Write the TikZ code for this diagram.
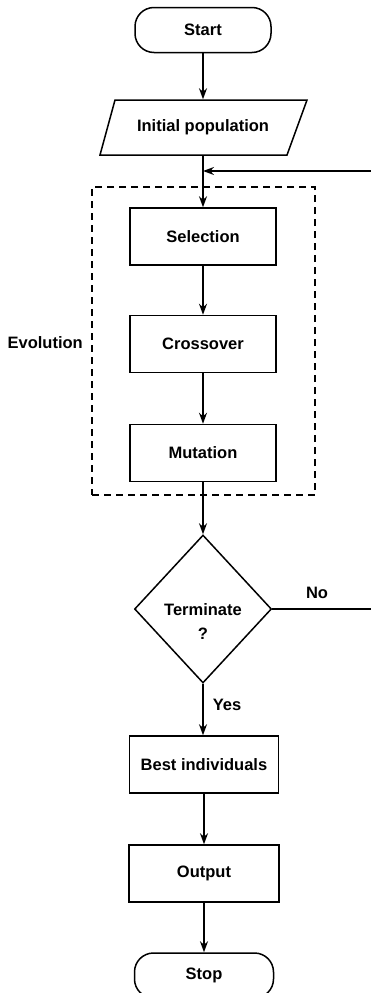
\documentclass[tikz,border=0pt]{standalone}
\usepackage{fontspec}
\setmainfont{Liberation Sans}
\usetikzlibrary{arrows.meta,shapes.geometric}
\tikzset{
  base/.style={font=\bfseries\fontsize{16.5}{24}\selectfont, line width=1.5pt, inner sep=0pt},
  box/.style={base, draw, rectangle, minimum width=146pt, minimum height=57pt},
  term/.style={base, draw, rectangle, rounded corners=19pt, minimum width=136pt, minimum height=45pt},
  decision/.style={base, draw, diamond, minimum width=137pt, minimum height=148pt},
  plain/.style={base},
  lbl/.style={font=\bfseries\fontsize{16.5}{20}\selectfont, inner sep=0pt},
  evobox/.style={draw, line width=1.4pt, dash pattern=on 7pt off 5pt, minimum width=223pt, minimum height=308pt, inner sep=0pt},
  arr/.style={line width=1.5pt, -{Stealth[length=11pt,width=8pt]}},
  ln/.style={line width=1.5pt}
}
\begin{document}
\begin{tikzpicture}[x=1pt,y=-1pt]
\useasboundingbox (0,0) rectangle (370,993);
\fill[white] (0,0) rectangle (370,993);

\node[term] (start) at (203,30) {Start};
\node[plain, minimum height=55pt] (init) at (203,127.5) {Initial population};
\draw[ln] (100,155) -- (115,100) -- (307,100) -- (287,155) -- cycle;

\node[evobox] (evo) at (203.5,341) {};
\node[lbl, anchor=east] (evolbl) at (83,343) {Evolution};

\node[box] (sel) at (203,236.5) {Selection};
\node[box] (cross) at (203,344) {Crossover};
\node[box] (mut) at (203,453) {Mutation};

\node[decision, label={[base, align=center, yshift=-13pt]center:Terminate\\?}] (dec) at (203,609) {};

\node[box, minimum width=149pt] (best) at (204,764.5) {Best individuals};
\node[box, minimum width=150pt] (out) at (204,873.5) {Output};
\node[term, minimum width=139pt] (stop) at (204,975.5) {Stop};

\coordinate (join) at (203,171);
\coordinate (c1) at (374,609);
\coordinate (c2) at (374,171);

\draw[arr] (start) -- (init.north);
\draw[arr] (init.south) -- (sel.north);
\draw[arr] (sel) -- (cross);
\draw[arr] (cross) -- (mut);
\draw[arr] (mut) -- (dec.north);
\draw[arr] (dec.south) -- (best.north -| dec.south);
\draw[arr] (best) -- (out);
\draw[arr] (out) -- (stop);
\draw[arr] (dec.east) -- (c1) -- (c2) -- (join);

\node[lbl] (nolbl) at (317,593) {No};
\node[lbl] (yeslbl) at (227,705) {Yes};
\end{tikzpicture}
\end{document}
